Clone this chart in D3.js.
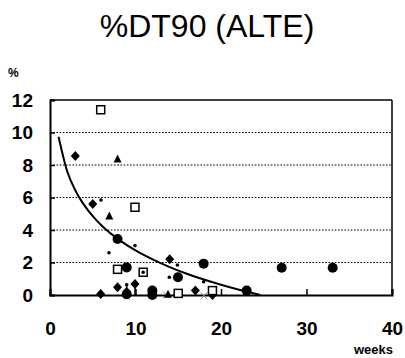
<!DOCTYPE html>
<html><head><meta charset="utf-8">
<script src="https://cdn.jsdelivr.net/npm/d3@7"></script>
<style>body{margin:0;background:#fff}svg{display:block}text{font-family:"Liberation Sans",Arial,sans-serif}</style>
</head><body><svg id="c" width="405" height="358"></svg>
<script>
const title = "%DT90 (ALTE)";
const xTicks = [0, 10, 20, 30, 40];
const yTicks = [0, 2, 4, 6, 8, 10, 12];
const gridY = [2, 4, 6, 8, 10];
const diamonds = [[2.96,8.55],[5.0,5.6],[14.0,2.2],[7.9,0.47],[9.94,0.68],[8.97,0.2],[5.93,0.06],[17.0,0.27],[19.0,0.0]];
const circles = [[7.9,3.45],[17.97,1.93],[27.1,1.68],[33.06,1.68],[8.97,1.7],[14.97,1.09],[11.97,0.27],[11.97,0.0],[23.0,0.27],[8.97,0.05]];
const squares = [[5.93,11.4],[9.94,5.4],[7.9,1.58],[10.9,1.4],[15.0,0.1],[19.0,0.27]];
const triangles = [[7.9,8.37],[6.94,4.86],[13.8,0.05]];
const dots = [[5.96,5.85],[9.94,3.04],[6.9,2.6],[13.96,1.09],[17.97,0.82],[8.97,0.63],[10.9,1.4],[14.9,1.85]];
const crosses = [[8.97,-0.1],[13.6,0.0],[18.0,-0.05]];
const stems = [[9.94,0.68],[8.97,0.63]];
const trendX = [1, 2, 3, 4, 5, 6, 8, 10, 12, 14, 16, 18, 20, 22, 24, 24.6];
const trendY = [9.74, 7.63, 6.40, 5.53, 4.85, 4.29, 3.42, 2.74, 2.19, 1.72, 1.31, 0.95, 0.63, 0.34, 0.08, 0];

const svg = d3.select("#c");
const x = d3.scaleLinear().domain([0, 40]).range([50, 392]);
const y = d3.scaleLinear().domain([0, 12]).range([295, 100]);

svg.append("text").attr("x", 207).attr("y", 37).attr("text-anchor", "middle")
  .attr("font-size", 32).text(title);
svg.append("text").attr("x", 8).attr("y", 77).attr("font-size", 12).attr("font-weight", "bold").text("%");
svg.append("text").attr("x", 393).attr("y", 354).attr("text-anchor", "end").attr("font-size", 13).attr("font-weight", "bold").text("weeks");

// grid
svg.append("g").selectAll("line").data(gridY).join("line")
  .attr("x1", x(0)).attr("x2", x(40)).attr("y1", d => y(d)).attr("y2", d => y(d))
  .attr("stroke", "#000").attr("stroke-width", 1.2).attr("stroke-dasharray", "1.6,1.6");

// frame
svg.append("line").attr("x1", x(0)).attr("x2", x(40)).attr("y1", y(12)).attr("y2", y(12)).attr("stroke", "#000").attr("stroke-width", 1.5);
svg.append("line").attr("x1", x(40)).attr("x2", x(40)).attr("y1", y(12)).attr("y2", y(0)).attr("stroke", "#000").attr("stroke-width", 1.5);

const yAxis = d3.axisLeft(y).tickValues(yTicks).tickSize(-5).tickPadding(17).tickFormat(d3.format("d"));
const gy = svg.append("g").attr("transform", `translate(${x(0)},0)`).call(yAxis);
const xAxis = d3.axisBottom(x).tickValues(xTicks).tickSize(-6).tickPadding(27).tickFormat(d3.format("d"));
const gx = svg.append("g").attr("transform", `translate(0,${y(0)})`).call(xAxis);
[gx, gy].forEach(g => {
  g.select(".domain").attr("stroke", "#000").attr("stroke-width", 2);
  g.selectAll(".tick line").attr("stroke", "#000").attr("stroke-width", 1.5);
  g.selectAll(".tick text").attr("font-size", 19).attr("font-weight", "bold").attr("fill", "#000")
   .attr("font-family", '"Liberation Sans",Arial,sans-serif');
});

// trend line
const line = d3.line().x(d => x(d[0])).y(d => y(d[1])).curve(d3.curveMonotoneX);
svg.append("path").datum(trendX.map((v, i) => [v, trendY[i]]))
  .attr("d", line).attr("fill", "none").attr("stroke", "#000").attr("stroke-width", 2);

const g = svg.append("g");
g.selectAll(".stem").data(stems).join("line")
  .attr("x1", d => x(d[0])).attr("x2", d => x(d[0])).attr("y1", d => y(d[1])).attr("y2", y(0))
  .attr("stroke", "#000").attr("stroke-width", 1.5);
g.selectAll(".cr").data(crosses).join("path")
  .attr("transform", d => `translate(${x(d[0])},${y(d[1])})`)
  .attr("d", d3.symbol(d3.symbolTimes, 30)).attr("fill", "none").attr("stroke", "#888").attr("stroke-width", 1);
g.selectAll(".ci").data(circles).join("circle")
  .attr("cx", d => x(d[0])).attr("cy", d => y(d[1])).attr("r", 5).attr("fill", "#000");
g.selectAll(".di").data(diamonds).join("path")
  .attr("transform", d => `translate(${x(d[0])},${y(d[1])})`)
  .attr("d", "M0,-5L4.5,0L0,5L-4.5,0Z").attr("fill", "#000");
g.selectAll(".sq").data(squares).join("rect")
  .attr("x", d => x(d[0]) - 4).attr("y", d => y(d[1]) - 4).attr("width", 8).attr("height", 8)
  .attr("fill", "#fff").attr("stroke", "#000").attr("stroke-width", 1.5);
g.selectAll(".tr").data(triangles).join("path")
  .attr("transform", d => `translate(${x(d[0])},${y(d[1])})`)
  .attr("d", "M0,-4.5L4,3.5L-4,3.5Z").attr("fill", "#000");
g.selectAll(".dt").data(dots).join("circle")
  .attr("cx", d => x(d[0])).attr("cy", d => y(d[1])).attr("r", 1.8).attr("fill", "#000");
</script></body></html>
